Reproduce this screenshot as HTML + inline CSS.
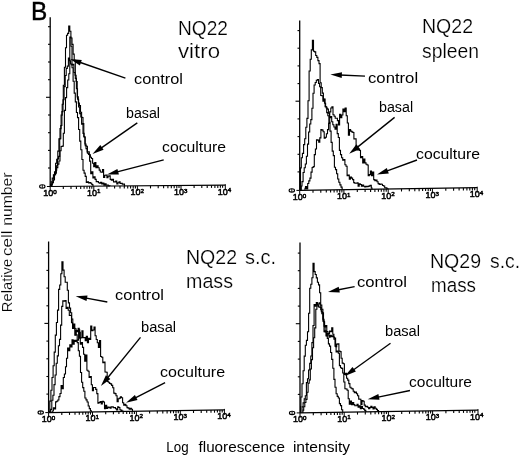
<!DOCTYPE html>
<html><head><meta charset="utf-8"><style>
html,body{margin:0;padding:0;background:#fff;}
body{width:520px;height:456px;overflow:hidden;font-family:"Liberation Sans", sans-serif;}
svg{display:block;filter:blur(0.35px);}
</style></head><body>
<svg width="520" height="456" viewBox="0 0 520 456">
<rect width="520" height="456" fill="#fff"/>
<line x1="50.2" y1="17.2" x2="50.2" y2="186.5" stroke="#000" stroke-width="1.3"/>
<line x1="48" y1="168" x2="50.2" y2="168" stroke="#000" stroke-width="1.1"/>
<line x1="48" y1="150.4" x2="50.2" y2="150.4" stroke="#000" stroke-width="1.1"/>
<line x1="48" y1="132.7" x2="50.2" y2="132.7" stroke="#000" stroke-width="1.1"/>
<line x1="48" y1="115" x2="50.2" y2="115" stroke="#000" stroke-width="1.1"/>
<line x1="46" y1="97.3" x2="50.2" y2="97.3" stroke="#000" stroke-width="1.1"/>
<line x1="48" y1="79.7" x2="50.2" y2="79.7" stroke="#000" stroke-width="1.1"/>
<line x1="48" y1="62" x2="50.2" y2="62" stroke="#000" stroke-width="1.1"/>
<line x1="48" y1="44.3" x2="50.2" y2="44.3" stroke="#000" stroke-width="1.1"/>
<line x1="48" y1="26.7" x2="50.2" y2="26.7" stroke="#000" stroke-width="1.1"/>
<line x1="50.2" y1="186.5" x2="225.3" y2="185.2" stroke="#000" stroke-width="1.25"/>
<line x1="50.2" y1="186.5" x2="50.2" y2="191.5" stroke="#000" stroke-width="1"/>
<line x1="63.3" y1="186.4" x2="63.3" y2="189" stroke="#000" stroke-width="1.1"/>
<line x1="71" y1="186.3" x2="71" y2="188.9" stroke="#000" stroke-width="1.1"/>
<line x1="76.4" y1="186.3" x2="76.4" y2="188.9" stroke="#000" stroke-width="1.1"/>
<line x1="80.7" y1="186.3" x2="80.7" y2="188.9" stroke="#000" stroke-width="1.1"/>
<line x1="84.1" y1="186.2" x2="84.1" y2="188.8" stroke="#000" stroke-width="1.1"/>
<line x1="87" y1="186.2" x2="87" y2="188.8" stroke="#000" stroke-width="1.1"/>
<line x1="89.6" y1="186.2" x2="89.6" y2="188.8" stroke="#000" stroke-width="1.1"/>
<line x1="91.8" y1="186.2" x2="91.8" y2="188.8" stroke="#000" stroke-width="1.1"/>
<line x1="93.8" y1="186.2" x2="93.8" y2="191.2" stroke="#000" stroke-width="1"/>
<line x1="106.9" y1="186.1" x2="106.9" y2="188.7" stroke="#000" stroke-width="1.1"/>
<line x1="114.6" y1="186" x2="114.6" y2="188.6" stroke="#000" stroke-width="1.1"/>
<line x1="120" y1="186" x2="120" y2="188.6" stroke="#000" stroke-width="1.1"/>
<line x1="124.3" y1="186" x2="124.3" y2="188.6" stroke="#000" stroke-width="1.1"/>
<line x1="127.7" y1="185.9" x2="127.7" y2="188.5" stroke="#000" stroke-width="1.1"/>
<line x1="130.6" y1="185.9" x2="130.6" y2="188.5" stroke="#000" stroke-width="1.1"/>
<line x1="133.2" y1="185.9" x2="133.2" y2="188.5" stroke="#000" stroke-width="1.1"/>
<line x1="135.4" y1="185.9" x2="135.4" y2="188.5" stroke="#000" stroke-width="1.1"/>
<line x1="137.4" y1="185.9" x2="137.4" y2="190.9" stroke="#000" stroke-width="1"/>
<line x1="150.5" y1="185.8" x2="150.5" y2="188.4" stroke="#000" stroke-width="1.1"/>
<line x1="158.2" y1="185.7" x2="158.2" y2="188.3" stroke="#000" stroke-width="1.1"/>
<line x1="163.6" y1="185.7" x2="163.6" y2="188.3" stroke="#000" stroke-width="1.1"/>
<line x1="167.9" y1="185.6" x2="167.9" y2="188.2" stroke="#000" stroke-width="1.1"/>
<line x1="171.3" y1="185.6" x2="171.3" y2="188.2" stroke="#000" stroke-width="1.1"/>
<line x1="174.2" y1="185.6" x2="174.2" y2="188.2" stroke="#000" stroke-width="1.1"/>
<line x1="176.8" y1="185.6" x2="176.8" y2="188.2" stroke="#000" stroke-width="1.1"/>
<line x1="179" y1="185.5" x2="179" y2="188.1" stroke="#000" stroke-width="1.1"/>
<line x1="181" y1="185.5" x2="181" y2="190.5" stroke="#000" stroke-width="1"/>
<line x1="194.1" y1="185.4" x2="194.1" y2="188" stroke="#000" stroke-width="1.1"/>
<line x1="201.8" y1="185.4" x2="201.8" y2="188" stroke="#000" stroke-width="1.1"/>
<line x1="207.2" y1="185.3" x2="207.2" y2="187.9" stroke="#000" stroke-width="1.1"/>
<line x1="211.5" y1="185.3" x2="211.5" y2="187.9" stroke="#000" stroke-width="1.1"/>
<line x1="214.9" y1="185.3" x2="214.9" y2="187.9" stroke="#000" stroke-width="1.1"/>
<line x1="217.8" y1="185.3" x2="217.8" y2="187.9" stroke="#000" stroke-width="1.1"/>
<line x1="220.4" y1="185.2" x2="220.4" y2="187.8" stroke="#000" stroke-width="1.1"/>
<line x1="222.6" y1="185.2" x2="222.6" y2="187.8" stroke="#000" stroke-width="1.1"/>
<line x1="225.3" y1="184.2" x2="225.3" y2="190.2" stroke="#000" stroke-width="1"/>
<text x="43.3" y="195.9" font-size="9" fill="#000" stroke="#000" stroke-width="0.5" font-family='"Liberation Sans", sans-serif'>10<tspan font-size="6.2" dy="-2.3">0</tspan></text>
<text x="86.9" y="195.6" font-size="9" fill="#000" stroke="#000" stroke-width="0.5" font-family='"Liberation Sans", sans-serif'>10<tspan font-size="6.2" dy="-2.3">1</tspan></text>
<text x="130.5" y="195.3" font-size="9" fill="#000" stroke="#000" stroke-width="0.5" font-family='"Liberation Sans", sans-serif'>10<tspan font-size="6.2" dy="-2.3">2</tspan></text>
<text x="174.1" y="194.9" font-size="9" fill="#000" stroke="#000" stroke-width="0.5" font-family='"Liberation Sans", sans-serif'>10<tspan font-size="6.2" dy="-2.3">3</tspan></text>
<text x="217.7" y="194.6" font-size="9" fill="#000" stroke="#000" stroke-width="0.5" font-family='"Liberation Sans", sans-serif'>10<tspan font-size="6.2" dy="-2.3">4</tspan></text>
<ellipse cx="42.3" cy="186.5" rx="2.7" ry="1.7" fill="none" stroke="#000" stroke-width="1.1"/>
<line x1="42.3" y1="185" x2="42.3" y2="188" stroke="#000" stroke-width="0.9"/>
<line x1="46.9" y1="186.5" x2="50.2" y2="186.5" stroke="#000" stroke-width="1"/>
<polyline points="50.5,186.5 50.5,184.6 51.1,184.6 51.1,181.8 52.2,181.8 52.2,178.1 53.4,178.1 53.4,174.9 54.5,174.9 54.5,171.7 55.6,171.7 55.6,163.3 56.7,163.3 56.7,159.2 57.8,159.2 57.8,151.1 58.9,151.1 58.9,138.9 60,138.9 60,128.6 61.1,128.6 61.1,115.1 62.2,115.1 62.2,104.3 63.3,104.3 63.3,85.3 64.4,85.3 64.4,67.2 65.5,67.2 65.5,47.7 66.5,47.7 66.5,35.3 67.6,35.3 67.6,33.4 68.7,33.4 68.7,26 69.8,26 69.8,31.3 70.9,31.3 70.9,46.2 72,46.2 72,67.7 73.1,67.7 73.1,81.2 74.2,81.2 74.2,93.1 75.3,93.1 75.3,101.9 76.4,101.9 76.4,112.5 77.5,112.5 77.5,117.6 78.6,117.6 78.6,129.5 79.7,129.5 79.7,141.1 80.8,141.1 80.8,149.7 81.9,149.7 81.9,159.5 83,159.5 83,170.2 84.1,170.2 84.1,173.1 85.2,173.1 85.2,176.4 86.3,176.4 86.3,182.4 87.4,182.4 87.4,181.7 88.5,181.7 88.5,182.9 89.6,182.9 89.6,182.6 90.7,182.6 90.7,183.3 91.8,183.3 91.8,184.5 92.9,184.5 92.9,185.8 93,185.8 93,186.2" fill="none" stroke="#000" stroke-width="1.1" stroke-linejoin="miter"/>
<polyline points="52,186.5 52,184.7 52.3,184.7 52.3,182.4 53.4,182.4 53.4,180 54.5,180 54.5,174.8 55.6,174.8 55.6,170.1 56.7,170.1 56.7,167.6 57.8,167.6 57.8,164.1 58.9,164.1 58.9,161 60,161 60,150.7 61.1,150.7 61.1,146.5 62.2,146.5 62.2,146.1 63.3,146.1 63.3,133.2 64.4,133.2 64.4,110.4 65.5,110.4 65.5,97.6 66.6,97.6 66.6,87.6 67.7,87.6 67.7,80 68.8,80 68.8,73.7 69.8,73.7 69.8,37 70.9,37 70.9,38 72,38 72,44.4 73.1,44.4 73.1,54.1 74.2,54.1 74.2,60.4 75.3,60.4 75.3,78.4 76.4,78.4 76.4,88.8 77.5,88.8 77.5,99.3 78.6,99.3 78.6,106.9 79.7,106.9 79.7,113.6 80.8,113.6 80.8,117 81.9,117 81.9,117.5 83,117.5 83,133.4 84.1,133.4 84.1,137.2 85.2,137.2 85.2,145.7 86.3,145.7 86.3,146.2 87.4,146.2 87.4,153.3 88.5,153.3 88.5,154.4 89.6,154.4 89.6,161.1 90.7,161.1 90.7,173.7 91.8,173.7 91.8,171.7 92.9,171.7 92.9,178 94,178 94,176.9 95.1,176.9 95.1,179.4 96.2,179.4 96.2,181.6 97.3,181.6 97.3,181.5 98.4,181.5 98.4,182.7 99.5,182.7 99.5,183.1 100.6,183.1 100.6,182.4 101.7,182.4 101.7,183.9 102.8,183.9 102.8,183 103.9,183 103.9,185.3 105,185.3 105,183.9 106.1,183.9 106.1,185.1 107.2,185.1 107.2,185.1 108.3,185.1 108.3,185.9 109.4,185.9 109.4,185.8 110,185.8 110,186.1" fill="none" stroke="#000" stroke-width="1.1" stroke-linejoin="miter"/>
<polyline points="51.5,186.5 51.5,184.4 52,184.4 52,182.9 53.1,182.9 53.1,178.7 54.2,178.7 54.2,174.8 55.3,174.8 55.3,173.3 56.4,173.3 56.4,165.7 57.5,165.7 57.5,159 58.6,159 58.6,156.4 59.7,156.4 59.7,138.7 60.8,138.7 60.8,125.5 61.9,125.5 61.9,111.6 63,111.6 63,99.7 64.1,99.7 64.1,86.6 65.2,86.6 65.2,75.5 66.2,75.5 66.2,68.4 67.3,68.4 67.3,66.1 68.4,66.1 68.4,58 69.5,58 69.5,60.8 70.6,60.8 70.6,64 71.7,64 71.7,64.9 72.8,64.9 72.8,64.4 73.9,64.4 73.9,72.5 75,72.5 75,75.2 76.1,75.2 76.1,81.5 77.2,81.5 77.2,96.9 78.3,96.9 78.3,103.1 79.4,103.1 79.4,105.5 80.5,105.5 80.5,112.3 81.6,112.3 81.6,124.3 82.7,124.3 82.7,123.6 83.8,123.6 83.8,136.5 84.9,136.5 84.9,144 86,144 86,148.6 87.1,148.6 87.1,151.9 88.2,151.9 88.2,151.9 89.3,151.9 89.3,154.7 90.4,154.7 90.4,157.3 91.5,157.3 91.5,158.5 92.6,158.5 92.6,163.2 93.7,163.2 93.7,166.7 94.8,166.7 94.8,162.5 95.9,162.5 95.9,167.6 97,167.6 97,165.7 98.1,165.7 98.1,167.8 99.2,167.8 99.2,170.1 100.3,170.1 100.3,172 101.4,172 101.4,172.2 102.5,172.2 102.5,169.6 103.6,169.6 103.6,177.5 104.7,177.5 104.7,175.2 105.8,175.2 105.8,175.1 106.9,175.1 106.9,177.6 108,177.6 108,176.1 109.1,176.1 109.1,175.7 110.2,175.7 110.2,179.4 111.3,179.4 111.3,180.1 112.4,180.1 112.4,179.3 113.5,179.3 113.5,181.9 114.6,181.9 114.6,182 115.7,182 115.7,181 116.8,181 116.8,184 117.9,184 117.9,182.8 119,182.8 119,181.7 120.1,181.7 120.1,183.4 121.2,183.4 121.2,183.3 122.3,183.3 122.3,184.3 123.4,184.3 123.4,184.1 124.5,184.1 124.5,185.9 125,185.9 125,185.9" fill="none" stroke="#000" stroke-width="1.1" stroke-linejoin="miter"/>
<line x1="299.7" y1="20.6" x2="299.7" y2="190.4" stroke="#000" stroke-width="1.3"/>
<line x1="297.5" y1="171.9" x2="299.7" y2="171.9" stroke="#000" stroke-width="1.1"/>
<line x1="297.5" y1="154.3" x2="299.7" y2="154.3" stroke="#000" stroke-width="1.1"/>
<line x1="297.5" y1="136.6" x2="299.7" y2="136.6" stroke="#000" stroke-width="1.1"/>
<line x1="297.5" y1="118.9" x2="299.7" y2="118.9" stroke="#000" stroke-width="1.1"/>
<line x1="295.5" y1="101.2" x2="299.7" y2="101.2" stroke="#000" stroke-width="1.1"/>
<line x1="297.5" y1="83.6" x2="299.7" y2="83.6" stroke="#000" stroke-width="1.1"/>
<line x1="297.5" y1="65.9" x2="299.7" y2="65.9" stroke="#000" stroke-width="1.1"/>
<line x1="297.5" y1="48.2" x2="299.7" y2="48.2" stroke="#000" stroke-width="1.1"/>
<line x1="297.5" y1="30.6" x2="299.7" y2="30.6" stroke="#000" stroke-width="1.1"/>
<line x1="299.7" y1="190.4" x2="477.2" y2="187.7" stroke="#000" stroke-width="1.25"/>
<line x1="299.7" y1="190.4" x2="299.7" y2="195.4" stroke="#000" stroke-width="1"/>
<line x1="313" y1="190.2" x2="313" y2="192.8" stroke="#000" stroke-width="1.1"/>
<line x1="320.8" y1="190.1" x2="320.8" y2="192.7" stroke="#000" stroke-width="1.1"/>
<line x1="326.3" y1="190" x2="326.3" y2="192.6" stroke="#000" stroke-width="1.1"/>
<line x1="330.6" y1="189.9" x2="330.6" y2="192.5" stroke="#000" stroke-width="1.1"/>
<line x1="334.1" y1="189.9" x2="334.1" y2="192.5" stroke="#000" stroke-width="1.1"/>
<line x1="337.1" y1="189.8" x2="337.1" y2="192.4" stroke="#000" stroke-width="1.1"/>
<line x1="339.7" y1="189.8" x2="339.7" y2="192.4" stroke="#000" stroke-width="1.1"/>
<line x1="341.9" y1="189.8" x2="341.9" y2="192.4" stroke="#000" stroke-width="1.1"/>
<line x1="343.9" y1="189.7" x2="343.9" y2="194.7" stroke="#000" stroke-width="1"/>
<line x1="357.3" y1="189.5" x2="357.3" y2="192.1" stroke="#000" stroke-width="1.1"/>
<line x1="365.1" y1="189.4" x2="365.1" y2="192" stroke="#000" stroke-width="1.1"/>
<line x1="370.6" y1="189.3" x2="370.6" y2="191.9" stroke="#000" stroke-width="1.1"/>
<line x1="374.9" y1="189.3" x2="374.9" y2="191.9" stroke="#000" stroke-width="1.1"/>
<line x1="378.4" y1="189.2" x2="378.4" y2="191.8" stroke="#000" stroke-width="1.1"/>
<line x1="381.3" y1="189.2" x2="381.3" y2="191.8" stroke="#000" stroke-width="1.1"/>
<line x1="383.9" y1="189.1" x2="383.9" y2="191.7" stroke="#000" stroke-width="1.1"/>
<line x1="386.2" y1="189.1" x2="386.2" y2="191.7" stroke="#000" stroke-width="1.1"/>
<line x1="388.2" y1="189.1" x2="388.2" y2="194.1" stroke="#000" stroke-width="1"/>
<line x1="401.5" y1="188.9" x2="401.5" y2="191.5" stroke="#000" stroke-width="1.1"/>
<line x1="409.3" y1="188.7" x2="409.3" y2="191.3" stroke="#000" stroke-width="1.1"/>
<line x1="414.8" y1="188.6" x2="414.8" y2="191.2" stroke="#000" stroke-width="1.1"/>
<line x1="419.1" y1="188.6" x2="419.1" y2="191.2" stroke="#000" stroke-width="1.1"/>
<line x1="422.6" y1="188.5" x2="422.6" y2="191.1" stroke="#000" stroke-width="1.1"/>
<line x1="425.6" y1="188.5" x2="425.6" y2="191.1" stroke="#000" stroke-width="1.1"/>
<line x1="428.2" y1="188.4" x2="428.2" y2="191" stroke="#000" stroke-width="1.1"/>
<line x1="430.4" y1="188.4" x2="430.4" y2="191" stroke="#000" stroke-width="1.1"/>
<line x1="432.4" y1="188.4" x2="432.4" y2="193.4" stroke="#000" stroke-width="1"/>
<line x1="445.8" y1="188.2" x2="445.8" y2="190.8" stroke="#000" stroke-width="1.1"/>
<line x1="453.6" y1="188.1" x2="453.6" y2="190.7" stroke="#000" stroke-width="1.1"/>
<line x1="459.1" y1="188" x2="459.1" y2="190.6" stroke="#000" stroke-width="1.1"/>
<line x1="463.4" y1="187.9" x2="463.4" y2="190.5" stroke="#000" stroke-width="1.1"/>
<line x1="466.9" y1="187.9" x2="466.9" y2="190.5" stroke="#000" stroke-width="1.1"/>
<line x1="469.8" y1="187.8" x2="469.8" y2="190.4" stroke="#000" stroke-width="1.1"/>
<line x1="472.4" y1="187.8" x2="472.4" y2="190.4" stroke="#000" stroke-width="1.1"/>
<line x1="474.7" y1="187.7" x2="474.7" y2="190.3" stroke="#000" stroke-width="1.1"/>
<line x1="477.2" y1="186.7" x2="477.2" y2="192.7" stroke="#000" stroke-width="1"/>
<text x="292.8" y="199.8" font-size="9" fill="#000" stroke="#000" stroke-width="0.5" font-family='"Liberation Sans", sans-serif'>10<tspan font-size="6.2" dy="-2.3">0</tspan></text>
<text x="337.1" y="199.1" font-size="9" fill="#000" stroke="#000" stroke-width="0.5" font-family='"Liberation Sans", sans-serif'>10<tspan font-size="6.2" dy="-2.3">1</tspan></text>
<text x="381.3" y="198.5" font-size="9" fill="#000" stroke="#000" stroke-width="0.5" font-family='"Liberation Sans", sans-serif'>10<tspan font-size="6.2" dy="-2.3">2</tspan></text>
<text x="425.6" y="197.8" font-size="9" fill="#000" stroke="#000" stroke-width="0.5" font-family='"Liberation Sans", sans-serif'>10<tspan font-size="6.2" dy="-2.3">3</tspan></text>
<text x="469.8" y="197.1" font-size="9" fill="#000" stroke="#000" stroke-width="0.5" font-family='"Liberation Sans", sans-serif'>10<tspan font-size="6.2" dy="-2.3">4</tspan></text>
<ellipse cx="291.8" cy="190.4" rx="2.7" ry="1.7" fill="none" stroke="#000" stroke-width="1.1"/>
<line x1="291.8" y1="188.9" x2="291.8" y2="191.9" stroke="#000" stroke-width="0.9"/>
<line x1="296.4" y1="190.4" x2="299.7" y2="190.4" stroke="#000" stroke-width="1"/>
<polyline points="300.5,190.4 300.5,167.9 301.3,167.9 301.3,157.7 302.4,157.7 302.4,153.4 303.6,153.4 303.6,144.6 304.7,144.6 304.7,138.8 305.8,138.8 305.8,127.2 306.9,127.2 306.9,118.4 308,118.4 308,100.8 309.1,100.8 309.1,71 310.2,71 310.2,59.2 311.3,59.2 311.3,49.9 312.4,49.9 312.4,40.4 313.5,40.4 313.5,51.3 314.6,51.3 314.6,51.9 315.7,51.9 315.7,55.5 316.8,55.5 316.8,57.4 317.9,57.4 317.9,60.6 319,60.6 319,63.6 320.1,63.6 320.1,82.8 321.2,82.8 321.2,87.6 322.3,87.6 322.3,93.1 323.4,93.1 323.4,99.3 324.5,99.3 324.5,103.3 325.6,103.3 325.6,106.7 326.7,106.7 326.7,112.6 327.8,112.6 327.8,115.8 328.9,115.8 328.9,122.4 330,122.4 330,131.1 331.1,131.1 331.1,142.4 332.2,142.4 332.2,151.1 333.3,151.1 333.3,155.6 334.4,155.6 334.4,167.3 335.5,167.3 335.5,169.6 336.6,169.6 336.6,173.8 337.7,173.8 337.7,179 338.8,179 338.8,182.2 339.9,182.2 339.9,184.9 341,184.9 341,187.1 342.1,187.1 342.1,188.8 342.2,188.8 342.2,189.8" fill="none" stroke="#000" stroke-width="1.1" stroke-linejoin="miter"/>
<polyline points="301.3,190.4 301.3,186 302,186 302,181.6 303.1,181.6 303.1,172.5 304.2,172.5 304.2,167.7 305.3,167.7 305.3,164 306.4,164 306.4,156.3 307.5,156.3 307.5,144.1 308.6,144.1 308.6,132 309.7,132 309.7,124 310.8,124 310.8,119.6 311.9,119.6 311.9,108.2 313,108.2 313,93.2 314.1,93.2 314.1,85 315.2,85 315.2,82.5 316.3,82.5 316.3,80.3 317.4,80.3 317.4,79.5 318.5,79.5 318.5,83.5 319.6,83.5 319.6,86.8 320.7,86.8 320.7,95.5 321.8,95.5 321.8,95.7 322.9,95.7 322.9,101.2 324,101.2 324,99 325.1,99 325.1,106.8 326.2,106.8 326.2,108 327.3,108 327.3,109.1 328.4,109.1 328.4,113.3 329.5,113.3 329.5,117.7 330.6,117.7 330.6,116.5 331.7,116.5 331.7,121.8 332.8,121.8 332.8,124.8 333.9,124.8 333.9,127 335,127 335,129.3 336.1,129.3 336.1,124.2 337.2,124.2 337.2,133.6 338.3,133.6 338.3,137.5 339.4,137.5 339.4,150.4 340.5,150.4 340.5,154.6 341.6,154.6 341.6,157.8 342.7,157.8 342.7,160.1 343.8,160.1 343.8,159.5 344.9,159.5 344.9,164.7 346,164.7 346,166.3 347.1,166.3 347.1,175.8 348.2,175.8 348.2,175 349.3,175 349.3,179.2 350.4,179.2 350.4,177 351.5,177 351.5,178.1 352.6,178.1 352.6,179.6 353.7,179.6 353.7,182.6 354.8,182.6 354.8,183.2 355.9,183.2 355.9,183.2 357,183.2 357,182.8 358.1,182.8 358.1,186.3 359.2,186.3 359.2,183.7 360.3,183.7 360.3,184.5 361.4,184.5 361.4,186.3 362.5,186.3 362.5,185 363.6,185 363.6,186.3 364.7,186.3 364.7,187 365.8,187 365.8,186.2 366.9,186.2 366.9,186.7 368,186.7 368,186.4 369.1,186.4 369.1,185.9 370.2,185.9 370.2,185.2 371.3,185.2 371.3,188 372,188 372,189.3" fill="none" stroke="#000" stroke-width="1.1" stroke-linejoin="miter"/>
<polyline points="305,190.3 305,188.4 305.5,188.4 305.5,186.6 306.6,186.6 306.6,189 307.7,189 307.7,183.5 308.8,183.5 308.8,180.9 309.9,180.9 309.9,178.1 311,178.1 311,172.1 312.1,172.1 312.1,167.5 313.2,167.5 313.2,166.6 314.3,166.6 314.3,154.6 315.4,154.6 315.4,149 316.5,149 316.5,139.9 317.6,139.9 317.6,140.1 318.7,140.1 318.7,142.1 319.8,142.1 319.8,137.9 320.9,137.9 320.9,129.6 322,129.6 322,130.1 323.1,130.1 323.1,131.7 324.2,131.7 324.2,138.2 325.3,138.2 325.3,137.3 326.4,137.3 326.4,133.7 327.5,133.7 327.5,129.6 328.6,129.6 328.6,123.4 329.7,123.4 329.7,111.9 330.8,111.9 330.8,108 331.9,108 331.9,106.9 333,106.9 333,114.8 334.1,114.8 334.1,116.2 335.2,116.2 335.2,118.2 336.3,118.2 336.3,118.3 337.4,118.3 337.4,120.6 338.5,120.6 338.5,125 339.6,125 339.6,114.2 340.7,114.2 340.7,117.6 341.8,117.6 341.8,115 342.9,115 342.9,109 344,109 344,111.8 345.1,111.8 345.1,108 346.2,108 346.2,115.7 347.3,115.7 347.3,123 348.4,123 348.4,135.3 349.5,135.3 349.5,129.6 350.6,129.6 350.6,131.1 351.7,131.1 351.7,131.9 352.8,131.9 352.8,132.5 353.9,132.5 353.9,139 355,139 355,138.9 356.1,138.9 356.1,147.1 357.2,147.1 357.2,149.9 358.3,149.9 358.3,149.3 359.4,149.3 359.4,150.4 360.5,150.4 360.5,157.7 361.6,157.7 361.6,156.5 362.7,156.5 362.7,162.9 363.8,162.9 363.8,159 364.9,159 364.9,162.9 366,162.9 366,164.3 367.1,164.3 367.1,165 368.2,165 368.2,175.6 369.3,175.6 369.3,174.6 370.4,174.6 370.4,171 371.5,171 371.5,175.6 372.6,175.6 372.6,172.1 373.7,172.1 373.7,179.6 374.8,179.6 374.8,180.8 375.9,180.8 375.9,180.1 377,180.1 377,181.8 378.1,181.8 378.1,183.6 379.2,183.6 379.2,184.5 380.3,184.5 380.3,184.1 381.4,184.1 381.4,184.2 382.5,184.2 382.5,185.5 383.6,185.5 383.6,186 384.7,186 384.7,187.7 385.8,187.7 385.8,187.9 386.9,187.9 386.9,188.7 388,188.7 388,188.7 388,188.7 388,189.1" fill="none" stroke="#000" stroke-width="1.1" stroke-linejoin="miter"/>
<line x1="48.6" y1="241.5" x2="48.6" y2="412.6" stroke="#000" stroke-width="1.3"/>
<line x1="46.4" y1="394.1" x2="48.6" y2="394.1" stroke="#000" stroke-width="1.1"/>
<line x1="46.4" y1="376.5" x2="48.6" y2="376.5" stroke="#000" stroke-width="1.1"/>
<line x1="46.4" y1="358.8" x2="48.6" y2="358.8" stroke="#000" stroke-width="1.1"/>
<line x1="46.4" y1="341.1" x2="48.6" y2="341.1" stroke="#000" stroke-width="1.1"/>
<line x1="44.4" y1="323.4" x2="48.6" y2="323.4" stroke="#000" stroke-width="1.1"/>
<line x1="46.4" y1="305.8" x2="48.6" y2="305.8" stroke="#000" stroke-width="1.1"/>
<line x1="46.4" y1="288.1" x2="48.6" y2="288.1" stroke="#000" stroke-width="1.1"/>
<line x1="46.4" y1="270.4" x2="48.6" y2="270.4" stroke="#000" stroke-width="1.1"/>
<line x1="46.4" y1="252.8" x2="48.6" y2="252.8" stroke="#000" stroke-width="1.1"/>
<line x1="48.6" y1="412.6" x2="224.4" y2="409.9" stroke="#000" stroke-width="1.25"/>
<line x1="48.6" y1="412.6" x2="48.6" y2="417.6" stroke="#000" stroke-width="1"/>
<line x1="61.8" y1="412.4" x2="61.8" y2="415" stroke="#000" stroke-width="1.1"/>
<line x1="69.5" y1="412.3" x2="69.5" y2="414.9" stroke="#000" stroke-width="1.1"/>
<line x1="75" y1="412.2" x2="75" y2="414.8" stroke="#000" stroke-width="1.1"/>
<line x1="79.3" y1="412.1" x2="79.3" y2="414.7" stroke="#000" stroke-width="1.1"/>
<line x1="82.8" y1="412.1" x2="82.8" y2="414.7" stroke="#000" stroke-width="1.1"/>
<line x1="85.7" y1="412" x2="85.7" y2="414.6" stroke="#000" stroke-width="1.1"/>
<line x1="88.2" y1="412" x2="88.2" y2="414.6" stroke="#000" stroke-width="1.1"/>
<line x1="90.5" y1="412" x2="90.5" y2="414.6" stroke="#000" stroke-width="1.1"/>
<line x1="92.5" y1="411.9" x2="92.5" y2="416.9" stroke="#000" stroke-width="1"/>
<line x1="105.7" y1="411.7" x2="105.7" y2="414.3" stroke="#000" stroke-width="1.1"/>
<line x1="113.4" y1="411.6" x2="113.4" y2="414.2" stroke="#000" stroke-width="1.1"/>
<line x1="118.9" y1="411.5" x2="118.9" y2="414.1" stroke="#000" stroke-width="1.1"/>
<line x1="123.2" y1="411.5" x2="123.2" y2="414.1" stroke="#000" stroke-width="1.1"/>
<line x1="126.7" y1="411.4" x2="126.7" y2="414" stroke="#000" stroke-width="1.1"/>
<line x1="129.6" y1="411.4" x2="129.6" y2="414" stroke="#000" stroke-width="1.1"/>
<line x1="132.1" y1="411.3" x2="132.1" y2="413.9" stroke="#000" stroke-width="1.1"/>
<line x1="134.4" y1="411.3" x2="134.4" y2="413.9" stroke="#000" stroke-width="1.1"/>
<line x1="136.4" y1="411.3" x2="136.4" y2="416.3" stroke="#000" stroke-width="1"/>
<line x1="149.6" y1="411" x2="149.6" y2="413.6" stroke="#000" stroke-width="1.1"/>
<line x1="157.3" y1="410.9" x2="157.3" y2="413.5" stroke="#000" stroke-width="1.1"/>
<line x1="162.8" y1="410.8" x2="162.8" y2="413.4" stroke="#000" stroke-width="1.1"/>
<line x1="167.1" y1="410.8" x2="167.1" y2="413.4" stroke="#000" stroke-width="1.1"/>
<line x1="170.6" y1="410.7" x2="170.6" y2="413.3" stroke="#000" stroke-width="1.1"/>
<line x1="173.5" y1="410.7" x2="173.5" y2="413.3" stroke="#000" stroke-width="1.1"/>
<line x1="176" y1="410.6" x2="176" y2="413.2" stroke="#000" stroke-width="1.1"/>
<line x1="178.3" y1="410.6" x2="178.3" y2="413.2" stroke="#000" stroke-width="1.1"/>
<line x1="180.3" y1="410.6" x2="180.3" y2="415.6" stroke="#000" stroke-width="1"/>
<line x1="193.5" y1="410.4" x2="193.5" y2="413" stroke="#000" stroke-width="1.1"/>
<line x1="201.2" y1="410.3" x2="201.2" y2="412.9" stroke="#000" stroke-width="1.1"/>
<line x1="206.7" y1="410.2" x2="206.7" y2="412.8" stroke="#000" stroke-width="1.1"/>
<line x1="211" y1="410.1" x2="211" y2="412.7" stroke="#000" stroke-width="1.1"/>
<line x1="214.5" y1="410.1" x2="214.5" y2="412.7" stroke="#000" stroke-width="1.1"/>
<line x1="217.4" y1="410" x2="217.4" y2="412.6" stroke="#000" stroke-width="1.1"/>
<line x1="219.9" y1="410" x2="219.9" y2="412.6" stroke="#000" stroke-width="1.1"/>
<line x1="222.2" y1="409.9" x2="222.2" y2="412.5" stroke="#000" stroke-width="1.1"/>
<line x1="224.4" y1="408.9" x2="224.4" y2="414.9" stroke="#000" stroke-width="1"/>
<text x="41.7" y="422" font-size="9" fill="#000" stroke="#000" stroke-width="0.5" font-family='"Liberation Sans", sans-serif'>10<tspan font-size="6.2" dy="-2.3">0</tspan></text>
<text x="85.6" y="421.3" font-size="9" fill="#000" stroke="#000" stroke-width="0.5" font-family='"Liberation Sans", sans-serif'>10<tspan font-size="6.2" dy="-2.3">1</tspan></text>
<text x="129.5" y="420.7" font-size="9" fill="#000" stroke="#000" stroke-width="0.5" font-family='"Liberation Sans", sans-serif'>10<tspan font-size="6.2" dy="-2.3">2</tspan></text>
<text x="173.4" y="420" font-size="9" fill="#000" stroke="#000" stroke-width="0.5" font-family='"Liberation Sans", sans-serif'>10<tspan font-size="6.2" dy="-2.3">3</tspan></text>
<text x="217.3" y="419.3" font-size="9" fill="#000" stroke="#000" stroke-width="0.5" font-family='"Liberation Sans", sans-serif'>10<tspan font-size="6.2" dy="-2.3">4</tspan></text>
<ellipse cx="40.7" cy="412.6" rx="2.7" ry="1.7" fill="none" stroke="#000" stroke-width="1.1"/>
<line x1="40.7" y1="411.1" x2="40.7" y2="414.1" stroke="#000" stroke-width="0.9"/>
<line x1="45.3" y1="412.6" x2="48.6" y2="412.6" stroke="#000" stroke-width="1"/>
<polyline points="49.3,412.6 49.3,411.5 49.8,411.5 49.8,401.1 50.9,401.1 50.9,390.2 52,390.2 52,377.5 53.1,377.5 53.1,365.8 54.2,365.8 54.2,352.1 55.3,352.1 55.3,335.1 56.4,335.1 56.4,322.5 57.5,322.5 57.5,310.1 58.6,310.1 58.6,289.4 59.7,289.4 59.7,285 60.8,285 60.8,273.8 61.9,273.8 61.9,261.7 63,261.7 63,270.1 64.1,270.1 64.1,276.8 65.2,276.8 65.2,282.2 66.2,282.2 66.2,282.2 67.3,282.2 67.3,290.2 68.4,290.2 68.4,302.9 69.5,302.9 69.5,308.1 70.6,308.1 70.6,312.7 71.7,312.7 71.7,319 72.8,319 72.8,327.8 73.9,327.8 73.9,328.2 75,328.2 75,328.8 76.1,328.8 76.1,334.9 77.2,334.9 77.2,342.6 78.3,342.6 78.3,350.7 79.4,350.7 79.4,356.2 80.5,356.2 80.5,372.5 81.6,372.5 81.6,382.3 82.7,382.3 82.7,387.6 83.8,387.6 83.8,391.3 84.9,391.3 84.9,398 86,398 86,399.9 87.1,399.9 87.1,402 88.2,402 88.2,406 89.3,406 89.3,408.6 90.4,408.6 90.4,410.7 91.4,410.7 91.4,411.9" fill="none" stroke="#000" stroke-width="1.1" stroke-linejoin="miter"/>
<polyline points="50.5,412.6 50.5,412.5 50.6,412.5 50.6,409.4 51.8,409.4 51.8,400.2 52.9,400.2 52.9,395.3 54,395.3 54,384.6 55.1,384.6 55.1,375 56.2,375 56.2,363.3 57.3,363.3 57.3,355.9 58.4,355.9 58.4,345.8 59.5,345.8 59.5,339.4 60.6,339.4 60.6,325.1 61.7,325.1 61.7,306.4 62.8,306.4 62.8,300.9 63.9,300.9 63.9,301.3 65,301.3 65,300.6 66.1,300.6 66.1,308.4 67.2,308.4 67.2,307.4 68.2,307.4 68.2,310.2 69.3,310.2 69.3,315.4 70.4,315.4 70.4,315.2 71.5,315.2 71.5,322.7 72.6,322.7 72.6,328.4 73.7,328.4 73.7,324.1 74.8,324.1 74.8,335.2 75.9,335.2 75.9,330.6 77,330.6 77,331.8 78.1,331.8 78.1,328.2 79.2,328.2 79.2,332.3 80.3,332.3 80.3,344.3 81.4,344.3 81.4,342.6 82.5,342.6 82.5,347.4 83.6,347.4 83.6,354.3 84.7,354.3 84.7,361.3 85.8,361.3 85.8,355 86.9,355 86.9,370.3 88,370.3 88,371.3 89.1,371.3 89.1,377.5 90.2,377.5 90.2,376.6 91.3,376.6 91.3,384.7 92.4,384.7 92.4,390.7 93.5,390.7 93.5,387.5 94.6,387.5 94.6,387.5 95.7,387.5 95.7,389.4 96.8,389.4 96.8,393.6 97.9,393.6 97.9,403.3 99,403.3 99,402.5 100.1,402.5 100.1,401.6 101.2,401.6 101.2,403.9 102.3,403.9 102.3,401.3 103.4,401.3 103.4,402 104.5,402 104.5,408.6 105.6,408.6 105.6,405.2 106.7,405.2 106.7,408.5 107.8,408.5 107.8,407 108.9,407 108.9,407.4 110,407.4 110,408.2 111.1,408.2 111.1,406.8 112.2,406.8 112.2,406.9 113.3,406.9 113.3,407.6 114.4,407.6 114.4,407.5 115.5,407.5 115.5,408.7 116.6,408.7 116.6,410 117.7,410 117.7,406.9 118.8,406.9 118.8,407.5 119.9,407.5 119.9,409.8 121,409.8 121,410.4 122.1,410.4 122.1,411.4 123.2,411.4 123.2,411.4 124,411.4 124,411.4" fill="none" stroke="#000" stroke-width="1.1" stroke-linejoin="miter"/>
<polyline points="52.2,412.5 52.2,412.5 52.2,412.5 52.2,411 53.4,411 53.4,407.9 54.5,407.9 54.5,408.9 55.6,408.9 55.6,401.9 56.7,401.9 56.7,401.3 57.8,401.3 57.8,400 58.9,400 58.9,396.6 60,396.6 60,393.5 61.1,393.5 61.1,385.6 62.2,385.6 62.2,388.8 63.3,388.8 63.3,377.5 64.4,377.5 64.4,374 65.5,374 65.5,366.7 66.5,366.7 66.5,358.3 67.6,358.3 67.6,348 68.7,348 68.7,350.6 69.8,350.6 69.8,344.9 70.9,344.9 70.9,347 72,347 72,339.8 73.1,339.8 73.1,344.2 74.2,344.2 74.2,340.4 75.3,340.4 75.3,341.4 76.4,341.4 76.4,340.2 77.5,340.2 77.5,340.1 78.6,340.1 78.6,329.8 79.7,329.8 79.7,338.2 80.8,338.2 80.8,337.8 81.9,337.8 81.9,330.7 83,330.7 83,337.8 84.1,337.8 84.1,337.6 85.2,337.6 85.2,340.7 86.3,340.7 86.3,336.2 87.4,336.2 87.4,342.7 88.5,342.7 88.5,338.4 89.6,338.4 89.6,339.4 90.7,339.4 90.7,326 91.8,326 91.8,330.6 92.9,330.6 92.9,330 94,330 94,327 95.1,327 95.1,335.7 96.2,335.7 96.2,339.5 97.3,339.5 97.3,342.7 98.4,342.7 98.4,347.4 99.5,347.4 99.5,340.6 100.6,340.6 100.6,356.5 101.7,356.5 101.7,357.3 102.8,357.3 102.8,362.8 103.9,362.8 103.9,362 105,362 105,372 106.1,372 106.1,372.3 107.2,372.3 107.2,381.4 108.3,381.4 108.3,382.3 109.4,382.3 109.4,383.4 110.5,383.4 110.5,383.9 111.6,383.9 111.6,385.4 112.7,385.4 112.7,387.8 113.8,387.8 113.8,393.1 114.9,393.1 114.9,393.6 116,393.6 116,395.8 117.1,395.8 117.1,401.6 118.2,401.6 118.2,398.7 119.3,398.7 119.3,398.1 120.4,398.1 120.4,396.9 121.5,396.9 121.5,397.7 122.6,397.7 122.6,402.7 123.7,402.7 123.7,405.2 124.8,405.2 124.8,404.2 125.9,404.2 125.9,405.8 127,405.8 127,407.6 128.1,407.6 128.1,408.1 129.2,408.1 129.2,409.1 130.3,409.1 130.3,408.3 131.4,408.3 131.4,409.3 132.5,409.3 132.5,411.3 132.6,411.3 132.6,411.3" fill="none" stroke="#000" stroke-width="1.1" stroke-linejoin="miter"/>
<line x1="300" y1="242.5" x2="300" y2="412.9" stroke="#000" stroke-width="1.3"/>
<line x1="297.8" y1="394.4" x2="300" y2="394.4" stroke="#000" stroke-width="1.1"/>
<line x1="297.8" y1="376.8" x2="300" y2="376.8" stroke="#000" stroke-width="1.1"/>
<line x1="297.8" y1="359.1" x2="300" y2="359.1" stroke="#000" stroke-width="1.1"/>
<line x1="297.8" y1="341.4" x2="300" y2="341.4" stroke="#000" stroke-width="1.1"/>
<line x1="295.8" y1="323.7" x2="300" y2="323.7" stroke="#000" stroke-width="1.1"/>
<line x1="297.8" y1="306.1" x2="300" y2="306.1" stroke="#000" stroke-width="1.1"/>
<line x1="297.8" y1="288.4" x2="300" y2="288.4" stroke="#000" stroke-width="1.1"/>
<line x1="297.8" y1="270.7" x2="300" y2="270.7" stroke="#000" stroke-width="1.1"/>
<line x1="297.8" y1="253.1" x2="300" y2="253.1" stroke="#000" stroke-width="1.1"/>
<line x1="300" y1="412.9" x2="478" y2="410.1" stroke="#000" stroke-width="1.25"/>
<line x1="300" y1="412.9" x2="300" y2="417.9" stroke="#000" stroke-width="1"/>
<line x1="313.3" y1="412.7" x2="313.3" y2="415.3" stroke="#000" stroke-width="1.1"/>
<line x1="321.1" y1="412.6" x2="321.1" y2="415.2" stroke="#000" stroke-width="1.1"/>
<line x1="326.6" y1="412.5" x2="326.6" y2="415.1" stroke="#000" stroke-width="1.1"/>
<line x1="330.9" y1="412.4" x2="330.9" y2="415" stroke="#000" stroke-width="1.1"/>
<line x1="334.4" y1="412.4" x2="334.4" y2="415" stroke="#000" stroke-width="1.1"/>
<line x1="337.4" y1="412.3" x2="337.4" y2="414.9" stroke="#000" stroke-width="1.1"/>
<line x1="339.9" y1="412.3" x2="339.9" y2="414.9" stroke="#000" stroke-width="1.1"/>
<line x1="342.2" y1="412.2" x2="342.2" y2="414.8" stroke="#000" stroke-width="1.1"/>
<line x1="344.2" y1="412.2" x2="344.2" y2="417.2" stroke="#000" stroke-width="1"/>
<line x1="357.5" y1="412" x2="357.5" y2="414.6" stroke="#000" stroke-width="1.1"/>
<line x1="365.3" y1="411.9" x2="365.3" y2="414.5" stroke="#000" stroke-width="1.1"/>
<line x1="370.8" y1="411.8" x2="370.8" y2="414.4" stroke="#000" stroke-width="1.1"/>
<line x1="375.1" y1="411.7" x2="375.1" y2="414.3" stroke="#000" stroke-width="1.1"/>
<line x1="378.6" y1="411.7" x2="378.6" y2="414.3" stroke="#000" stroke-width="1.1"/>
<line x1="381.6" y1="411.6" x2="381.6" y2="414.2" stroke="#000" stroke-width="1.1"/>
<line x1="384.1" y1="411.6" x2="384.1" y2="414.2" stroke="#000" stroke-width="1.1"/>
<line x1="386.4" y1="411.5" x2="386.4" y2="414.1" stroke="#000" stroke-width="1.1"/>
<line x1="388.4" y1="411.5" x2="388.4" y2="416.5" stroke="#000" stroke-width="1"/>
<line x1="401.7" y1="411.3" x2="401.7" y2="413.9" stroke="#000" stroke-width="1.1"/>
<line x1="409.5" y1="411.2" x2="409.5" y2="413.8" stroke="#000" stroke-width="1.1"/>
<line x1="415" y1="411.1" x2="415" y2="413.7" stroke="#000" stroke-width="1.1"/>
<line x1="419.3" y1="411" x2="419.3" y2="413.6" stroke="#000" stroke-width="1.1"/>
<line x1="422.8" y1="411" x2="422.8" y2="413.6" stroke="#000" stroke-width="1.1"/>
<line x1="425.8" y1="410.9" x2="425.8" y2="413.5" stroke="#000" stroke-width="1.1"/>
<line x1="428.3" y1="410.9" x2="428.3" y2="413.5" stroke="#000" stroke-width="1.1"/>
<line x1="430.6" y1="410.8" x2="430.6" y2="413.4" stroke="#000" stroke-width="1.1"/>
<line x1="432.6" y1="410.8" x2="432.6" y2="415.8" stroke="#000" stroke-width="1"/>
<line x1="445.9" y1="410.6" x2="445.9" y2="413.2" stroke="#000" stroke-width="1.1"/>
<line x1="453.7" y1="410.5" x2="453.7" y2="413.1" stroke="#000" stroke-width="1.1"/>
<line x1="459.2" y1="410.4" x2="459.2" y2="413" stroke="#000" stroke-width="1.1"/>
<line x1="463.5" y1="410.3" x2="463.5" y2="412.9" stroke="#000" stroke-width="1.1"/>
<line x1="467" y1="410.3" x2="467" y2="412.9" stroke="#000" stroke-width="1.1"/>
<line x1="470" y1="410.2" x2="470" y2="412.8" stroke="#000" stroke-width="1.1"/>
<line x1="472.5" y1="410.2" x2="472.5" y2="412.8" stroke="#000" stroke-width="1.1"/>
<line x1="474.8" y1="410.2" x2="474.8" y2="412.8" stroke="#000" stroke-width="1.1"/>
<line x1="478" y1="409.1" x2="478" y2="415.1" stroke="#000" stroke-width="1"/>
<text x="293.1" y="422.3" font-size="9" fill="#000" stroke="#000" stroke-width="0.5" font-family='"Liberation Sans", sans-serif'>10<tspan font-size="6.2" dy="-2.3">0</tspan></text>
<text x="337.3" y="421.6" font-size="9" fill="#000" stroke="#000" stroke-width="0.5" font-family='"Liberation Sans", sans-serif'>10<tspan font-size="6.2" dy="-2.3">1</tspan></text>
<text x="381.5" y="420.9" font-size="9" fill="#000" stroke="#000" stroke-width="0.5" font-family='"Liberation Sans", sans-serif'>10<tspan font-size="6.2" dy="-2.3">2</tspan></text>
<text x="425.7" y="420.2" font-size="9" fill="#000" stroke="#000" stroke-width="0.5" font-family='"Liberation Sans", sans-serif'>10<tspan font-size="6.2" dy="-2.3">3</tspan></text>
<text x="469.9" y="419.5" font-size="9" fill="#000" stroke="#000" stroke-width="0.5" font-family='"Liberation Sans", sans-serif'>10<tspan font-size="6.2" dy="-2.3">4</tspan></text>
<ellipse cx="292.1" cy="412.9" rx="2.7" ry="1.7" fill="none" stroke="#000" stroke-width="1.1"/>
<line x1="292.1" y1="411.4" x2="292.1" y2="414.4" stroke="#000" stroke-width="0.9"/>
<line x1="296.7" y1="412.9" x2="300" y2="412.9" stroke="#000" stroke-width="1"/>
<polyline points="300.6,412.9 300.6,406.3 300.9,406.3 300.9,397 302,397 302,383.7 303.1,383.7 303.1,370.7 304.2,370.7 304.2,356.1 305.3,356.1 305.3,345.3 306.4,345.3 306.4,340.4 307.5,340.4 307.5,331.7 308.6,331.7 308.6,313.3 309.7,313.3 309.7,288.3 310.8,288.3 310.8,284.3 311.9,284.3 311.9,277.7 313,277.7 313,263.2 314.1,263.2 314.1,271.6 315.2,271.6 315.2,274.5 316.3,274.5 316.3,277.9 317.4,277.9 317.4,282.2 318.5,282.2 318.5,284.9 319.6,284.9 319.6,292.7 320.7,292.7 320.7,305.1 321.8,305.1 321.8,309.2 322.9,309.2 322.9,319.3 324,319.3 324,326.3 325.1,326.3 325.1,331.9 326.2,331.9 326.2,335.9 327.3,335.9 327.3,338.4 328.4,338.4 328.4,343.9 329.5,343.9 329.5,346.1 330.6,346.1 330.6,352.5 331.7,352.5 331.7,359.4 332.8,359.4 332.8,368.2 333.9,368.2 333.9,379.4 335,379.4 335,387.3 336.1,387.3 336.1,393.7 337.2,393.7 337.2,396.4 338.3,396.4 338.3,398 339.4,398 339.4,403.6 340.5,403.6 340.5,405.6 341.6,405.6 341.6,409.7 342.7,409.7 342.7,411.9 342.7,411.9 342.7,412.2" fill="none" stroke="#000" stroke-width="1.1" stroke-linejoin="miter"/>
<polyline points="302,412.9 302,406.9 303.1,406.9 303.1,402.9 304.2,402.9 304.2,398.9 305.3,398.9 305.3,395.8 306.4,395.8 306.4,382.6 307.5,382.6 307.5,378.7 308.6,378.7 308.6,370 309.7,370 309.7,363.4 310.8,363.4 310.8,356 311.9,356 311.9,342.6 313,342.6 313,325.5 314.1,325.5 314.1,304.5 315.2,304.5 315.2,306.1 316.3,306.1 316.3,302.5 317.4,302.5 317.4,305 318.5,305 318.5,307 319.6,307 319.6,307.2 320.7,307.2 320.7,309.7 321.8,309.7 321.8,313.8 322.9,313.8 322.9,321.1 324,321.1 324,331.7 325.1,331.7 325.1,330.7 326.2,330.7 326.2,335.7 327.3,335.7 327.3,333.3 328.4,333.3 328.4,333.7 329.5,333.7 329.5,331 330.6,331 330.6,331.6 331.7,331.6 331.7,327.8 332.8,327.8 332.8,334.3 333.9,334.3 333.9,339.1 335,339.1 335,346.2 336.1,346.2 336.1,351.9 337.2,351.9 337.2,351 338.3,351 338.3,353.3 339.4,353.3 339.4,365.6 340.5,365.6 340.5,367.7 341.6,367.7 341.6,368.4 342.7,368.4 342.7,373 343.8,373 343.8,382 344.9,382 344.9,388.7 346,388.7 346,389 347.1,389 347.1,390.2 348.2,390.2 348.2,398.7 349.3,398.7 349.3,404.2 350.4,404.2 350.4,401 351.5,401 351.5,404.6 352.6,404.6 352.6,402.6 353.7,402.6 353.7,404.6 354.8,404.6 354.8,405.8 355.9,405.8 355.9,405.7 357,405.7 357,404.3 358.1,404.3 358.1,407.2 359.2,407.2 359.2,405.7 360.3,405.7 360.3,408.6 361.4,408.6 361.4,406.5 362.5,406.5 362.5,408.5 363.6,408.5 363.6,409.1 364.7,409.1 364.7,410.4 365.8,410.4 365.8,411.7 366,411.7 366,411.9" fill="none" stroke="#000" stroke-width="1.1" stroke-linejoin="miter"/>
<polyline points="303,412.9 303,410.1 303.7,410.1 303.7,406.7 304.8,406.7 304.8,402.5 305.9,402.5 305.9,399.4 307,399.4 307,392.2 308.1,392.2 308.1,383.2 309.2,383.2 309.2,379.9 310.3,379.9 310.3,369 311.4,369 311.4,359.6 312.5,359.6 312.5,347.8 313.6,347.8 313.6,337.8 314.7,337.8 314.7,327.9 315.8,327.9 315.8,309.2 316.9,309.2 316.9,306 318,306 318,304 319.1,304 319.1,302.7 320.2,302.7 320.2,307.3 321.3,307.3 321.3,311.7 322.4,311.7 322.4,312.9 323.5,312.9 323.5,321.7 324.6,321.7 324.6,327 325.7,327 325.7,325.6 326.8,325.6 326.8,331.5 327.9,331.5 327.9,334.9 329,334.9 329,337.1 330.1,337.1 330.1,335.3 331.2,335.3 331.2,336.6 332.3,336.6 332.3,335.9 333.4,335.9 333.4,337 334.5,337 334.5,338.1 335.6,338.1 335.6,346.7 336.7,346.7 336.7,344.1 337.8,344.1 337.8,343.9 338.9,343.9 338.9,351.1 340,351.1 340,351.6 341.1,351.6 341.1,358.3 342.2,358.3 342.2,363.1 343.3,363.1 343.3,363.7 344.4,363.7 344.4,374.4 345.5,374.4 345.5,373.4 346.6,373.4 346.6,378.2 347.7,378.2 347.7,380.1 348.8,380.1 348.8,383.6 349.9,383.6 349.9,387.3 351,387.3 351,388.2 352.1,388.2 352.1,388.9 353.2,388.9 353.2,391.2 354.3,391.2 354.3,392.6 355.4,392.6 355.4,392 356.5,392 356.5,393.7 357.6,393.7 357.6,395.7 358.7,395.7 358.7,399.1 359.8,399.1 359.8,399.2 360.9,399.2 360.9,404.7 362,404.7 362,400.6 363.1,400.6 363.1,401.3 364.2,401.3 364.2,405.1 365.3,405.1 365.3,406.8 366.4,406.8 366.4,406.3 367.5,406.3 367.5,407.3 368.6,407.3 368.6,408.6 369.7,408.6 369.7,407.6 370.8,407.6 370.8,406.4 371.9,406.4 371.9,407.4 373,407.4 373,408.9 374.1,408.9 374.1,406.8 375.2,406.8 375.2,408.3 376.3,408.3 376.3,409.4 377.4,409.4 377.4,410.6 378.5,410.6 378.5,411.7 378.6,411.7 378.6,411.7" fill="none" stroke="#000" stroke-width="1.1" stroke-linejoin="miter"/>
<text id="B" x="31" y="19.7" font-size="25" font-family='"Liberation Sans", sans-serif' fill="#000" stroke="#000" stroke-width="0.4" textLength="16.3" lengthAdjust="spacingAndGlyphs">B</text>
<text id="t1a" x="178" y="34.5" font-size="19.3" font-family='"Liberation Sans", sans-serif' fill="#000" stroke="#fff" stroke-width="0.2" textLength="50" lengthAdjust="spacingAndGlyphs">NQ22</text>
<text id="t1b" x="178" y="58" font-size="19.3" font-family='"Liberation Sans", sans-serif' fill="#000" stroke="#fff" stroke-width="0.2" textLength="42" lengthAdjust="spacingAndGlyphs">vitro</text>
<text id="t2a" x="422" y="33" font-size="19.3" font-family='"Liberation Sans", sans-serif' fill="#000" stroke="#fff" stroke-width="0.2" textLength="51" lengthAdjust="spacingAndGlyphs">NQ22</text>
<text id="t2b" x="422" y="57.7" font-size="19.3" font-family='"Liberation Sans", sans-serif' fill="#000" stroke="#fff" stroke-width="0.2" textLength="57" lengthAdjust="spacingAndGlyphs">spleen</text>
<text id="t3a" x="186" y="263.7" font-size="19.3" font-family='"Liberation Sans", sans-serif' fill="#000" stroke="#fff" stroke-width="0.2" textLength="51.1" lengthAdjust="spacingAndGlyphs">NQ22</text>
<text id="t3s" x="245" y="263.7" font-size="19.3" font-family='"Liberation Sans", sans-serif' fill="#000" stroke="#fff" stroke-width="0.2" textLength="31.1" lengthAdjust="spacingAndGlyphs">s.c.</text>
<text id="t3b" x="186" y="288" font-size="19.3" font-family='"Liberation Sans", sans-serif' fill="#000" stroke="#fff" stroke-width="0.2" textLength="47" lengthAdjust="spacingAndGlyphs">mass</text>
<text id="t4a" x="430" y="268.2" font-size="19.3" font-family='"Liberation Sans", sans-serif' fill="#000" stroke="#fff" stroke-width="0.2" textLength="51.1" lengthAdjust="spacingAndGlyphs">NQ29</text>
<text id="t4s" x="490" y="268.2" font-size="19.3" font-family='"Liberation Sans", sans-serif' fill="#000" stroke="#fff" stroke-width="0.2" textLength="30.1" lengthAdjust="spacingAndGlyphs">s.c.</text>
<text id="t4b" x="431" y="292" font-size="19.3" font-family='"Liberation Sans", sans-serif' fill="#000" stroke="#fff" stroke-width="0.2" textLength="45" lengthAdjust="spacingAndGlyphs">mass</text>
<text id="c1" x="134" y="84.3" font-size="15.3" font-family='"Liberation Sans", sans-serif' fill="#000" textLength="49" lengthAdjust="spacingAndGlyphs">control</text>
<text id="b1" x="126" y="118.2" font-size="15.3" font-family='"Liberation Sans", sans-serif' fill="#000" textLength="34" lengthAdjust="spacingAndGlyphs">basal</text>
<text id="k1" x="162" y="151.9" font-size="15.3" font-family='"Liberation Sans", sans-serif' fill="#000" textLength="64" lengthAdjust="spacingAndGlyphs">coculture</text>
<text id="c2" x="368" y="82.7" font-size="15.3" font-family='"Liberation Sans", sans-serif' fill="#000" textLength="50.1" lengthAdjust="spacingAndGlyphs">control</text>
<text id="b2" x="379" y="112" font-size="15.3" font-family='"Liberation Sans", sans-serif' fill="#000" textLength="34.1" lengthAdjust="spacingAndGlyphs">basal</text>
<text id="k2" x="416" y="158.6" font-size="15.3" font-family='"Liberation Sans", sans-serif' fill="#000" textLength="64" lengthAdjust="spacingAndGlyphs">coculture</text>
<text id="c3" x="115" y="299.6" font-size="15.3" font-family='"Liberation Sans", sans-serif' fill="#000" textLength="49" lengthAdjust="spacingAndGlyphs">control</text>
<text id="b3" x="141" y="332" font-size="15.3" font-family='"Liberation Sans", sans-serif' fill="#000" textLength="35.1" lengthAdjust="spacingAndGlyphs">basal</text>
<text id="k3" x="160" y="377" font-size="15.3" font-family='"Liberation Sans", sans-serif' fill="#000" textLength="65.1" lengthAdjust="spacingAndGlyphs">coculture</text>
<text id="c4" x="357" y="287.3" font-size="15.3" font-family='"Liberation Sans", sans-serif' fill="#000" textLength="50" lengthAdjust="spacingAndGlyphs">control</text>
<text id="b4" x="385" y="336.2" font-size="15.3" font-family='"Liberation Sans", sans-serif' fill="#000" textLength="35" lengthAdjust="spacingAndGlyphs">basal</text>
<text id="k4" x="409" y="386.9" font-size="15.3" font-family='"Liberation Sans", sans-serif' fill="#000" textLength="63" lengthAdjust="spacingAndGlyphs">coculture</text>
<text id="xl1" x="166.3" y="452" font-size="15.2" font-family='"Liberation Sans", sans-serif' fill="#000" textLength="22.3" lengthAdjust="spacingAndGlyphs">Log</text>
<text id="xl2" x="198.5" y="452" font-size="15.2" font-family='"Liberation Sans", sans-serif' fill="#000" textLength="86.5" lengthAdjust="spacingAndGlyphs">fluorescence</text>
<text id="xl3" x="292.9" y="452" font-size="15.2" font-family='"Liberation Sans", sans-serif' fill="#000" textLength="57.2" lengthAdjust="spacingAndGlyphs">intensity</text>
<line x1="125.4" y1="78.2" x2="79" y2="62" stroke="#000" stroke-width="1.35"/><polygon points="70,58.9 81.8,59.9 79.9,65.4" fill="#000"/>
<line x1="137.3" y1="122.9" x2="100.3" y2="148.6" stroke="#000" stroke-width="1.35"/><polygon points="92.5,154 100.3,145.1 103.6,149.8" fill="#000"/>
<line x1="163.7" y1="159.8" x2="116.2" y2="172.2" stroke="#000" stroke-width="1.35"/><polygon points="107,174.6 117.4,168.9 118.9,174.5" fill="#000"/>
<line x1="365" y1="76.2" x2="339.9" y2="75" stroke="#000" stroke-width="1.35"/><polygon points="330.4,74.5 342,72.2 341.7,78" fill="#000"/>
<line x1="394.6" y1="117.4" x2="356.6" y2="147.9" stroke="#000" stroke-width="1.35"/><polygon points="349.2,153.8 356.4,144.3 360,148.9" fill="#000"/>
<line x1="417" y1="160" x2="385.9" y2="171.3" stroke="#000" stroke-width="1.35"/><polygon points="377,174.6 386.8,167.9 388.8,173.4" fill="#000"/>
<line x1="107.3" y1="302" x2="85" y2="297.9" stroke="#000" stroke-width="1.35"/><polygon points="75.7,296.2 87.5,295.4 86.5,301.1" fill="#000"/>
<line x1="140.5" y1="337.4" x2="106.9" y2="378.7" stroke="#000" stroke-width="1.35"/><polygon points="100.9,386.1 105.9,375.3 110.4,379" fill="#000"/>
<line x1="165.1" y1="382.6" x2="134.4" y2="398.4" stroke="#000" stroke-width="1.35"/><polygon points="126,402.8 134.9,394.9 137.5,400.1" fill="#000"/>
<line x1="354.6" y1="286.6" x2="337.3" y2="290" stroke="#000" stroke-width="1.35"/><polygon points="328,291.9 338.7,286.8 339.8,292.5" fill="#000"/>
<line x1="390.5" y1="343.2" x2="352.6" y2="370.5" stroke="#000" stroke-width="1.35"/><polygon points="344.9,376 352.5,366.9 355.9,371.6" fill="#000"/>
<line x1="410" y1="390.5" x2="377" y2="397.4" stroke="#000" stroke-width="1.35"/><polygon points="367.7,399.3 378.4,394.1 379.5,399.8" fill="#000"/>
<text transform="translate(11.6,312.20) rotate(-90)" x="0" y="0" font-size="14.5" font-family='"Liberation Sans", sans-serif' fill="#000" stroke="#fff" stroke-width="0.15" textLength="53.41" lengthAdjust="spacingAndGlyphs">Relative</text>
<text transform="translate(11.6,256.00) rotate(-90)" x="0" y="0" font-size="14.5" font-family='"Liberation Sans", sans-serif' fill="#000" stroke="#fff" stroke-width="0.15" textLength="25.62" lengthAdjust="spacingAndGlyphs">cell</text>
<text transform="translate(11.6,225.80) rotate(-90)" x="0" y="0" font-size="14.5" font-family='"Liberation Sans", sans-serif' fill="#000" stroke="#fff" stroke-width="0.15" textLength="53.20" lengthAdjust="spacingAndGlyphs">number</text>
</svg>
</body></html>
